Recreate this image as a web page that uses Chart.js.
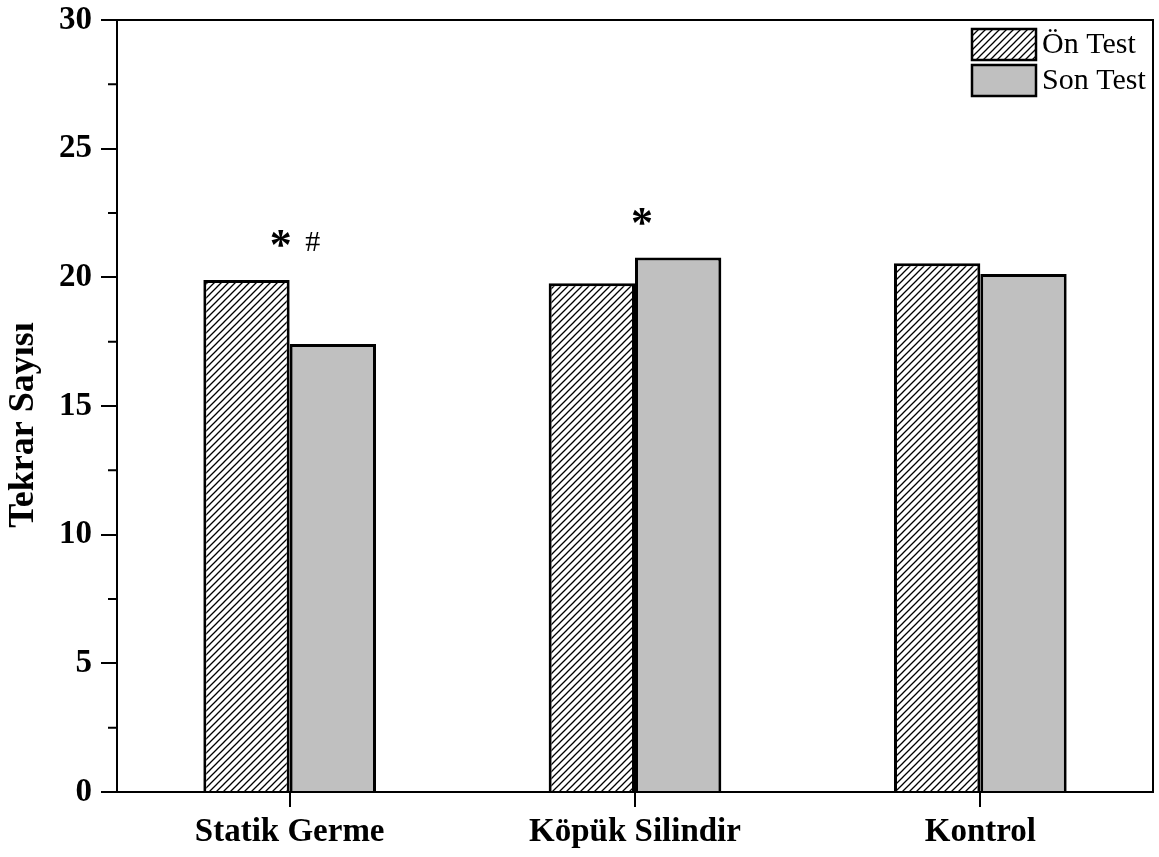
<!DOCTYPE html>
<html>
<head>
<meta charset="utf-8">
<script src="https://cdn.jsdelivr.net/npm/chart.js@4/dist/chart.umd.min.js"></script>
<style>
  html, body { margin: 0; padding: 0; background: #fff; }
  #wrap { width: 1159px; height: 857px; }
</style>
</head>
<body>
<div id="wrap"><canvas id="chart"></canvas></div>
<script>
(function() {
    'use strict';

    // Data
    var groups = ['Statik Germe', 'Köpük Silindir', 'Kontrol'];
    var seriesNames = ['Ön Test', 'Son Test'];
    var onTest = [19.9, 19.77, 20.55];
    var sonTest = [17.41, 20.77, 20.13];
    var yTicks = [0, 5, 10, 15, 20, 25, 30];
    var yTitle = 'Tekrar Sayısı';

    // Significance marks above groups
    var markGroups = [0, 0, 1];
    var markTexts = ['*', '#', '*'];

    var SERIF = '"Liberation Serif", "Times New Roman", serif';

    /**
     * Diagonal "/" hatch used for the pre-test bars.
     */
    function makeHatch() {
        var s = 7;
        var c = document.createElement('canvas');
        c.width = s; c.height = s;
        var g = c.getContext('2d');
        g.fillStyle = '#fff';
        g.fillRect(0, 0, s, s);
        g.strokeStyle = '#000';
        g.lineWidth = 1.3;
        g.beginPath();
        g.moveTo(0, s); g.lineTo(s, 0);
        g.moveTo(-1, 1); g.lineTo(1, -1);
        g.moveTo(s - 1, s + 1); g.lineTo(s + 1, s - 1);
        g.stroke();
        return g.createPattern(c, 'repeat');
    }

    var hatch = makeHatch();
    var gray = '#c0c0c0';

    // Frame, minor ticks, legend, axis title and significance marks
    var decorPlugin = {
        id: 'decor',
        afterDatasetsDraw: function(chart) {
            var ctx = chart.ctx;
            var xs = chart.scales.x;

            ctx.save();
            ctx.fillStyle = '#000';
            ctx.textAlign = 'center';
            ctx.textBaseline = 'middle';
            var offsets = [-9, 23, 7];
            markGroups.forEach(function(gi, k) {
                var top = Infinity;
                chart.data.datasets.forEach(function(ds, di) {
                    var el = chart.getDatasetMeta(di).data[gi];
                    if (el && el.y < top) top = el.y;
                });
                var x = xs.getPixelForValue(gi) + offsets[k];
                if (markTexts[k] === '*') {
                    ctx.font = 'bold 44px ' + SERIF;
                    ctx.fillText(markTexts[k], x, top - 32);
                } else {
                    ctx.font = '30px ' + SERIF;
                    ctx.fillText(markTexts[k], x, top - 37);
                }
            });
            ctx.restore();
        },
        afterDraw: function(chart) {
            var ctx = chart.ctx;
            var a = chart.chartArea;
            var ys = chart.scales.y;

            ctx.save();
            ctx.strokeStyle = '#000';
            ctx.lineWidth = 2;
            ctx.strokeRect(a.left, a.top, a.right - a.left, a.bottom - a.top);

            // minor ticks halfway between majors
            var t = ys.ticks;
            ctx.beginPath();
            for (var i = 0; i < t.length - 1; i++) {
                var py = ys.getPixelForValue((t[i].value + t[i + 1].value) / 2);
                ctx.moveTo(a.left - 9, py);
                ctx.lineTo(a.left, py);
            }
            ctx.stroke();

            // y axis title, a little below the middle as in the source
            ctx.save();
            ctx.translate(24, (a.top + a.bottom) / 2 + 19);
            ctx.rotate(-Math.PI / 2);
            ctx.font = 'bold 36px ' + SERIF;
            ctx.fillStyle = '#000';
            ctx.textAlign = 'center';
            ctx.textBaseline = 'middle';
            ctx.fillText(yTitle, 0, 0);
            ctx.restore();

            // legend in the upper right corner
            var bw = 64, bh = 31, gap = 5;
            var bx = a.right - 117 - bw;
            var by = a.top + 9;
            ctx.font = '30px ' + SERIF;
            ctx.textBaseline = 'middle';
            ctx.textAlign = 'left';
            chart.data.datasets.forEach(function(ds, i) {
                var yy = by + i * (bh + gap);
                ctx.fillStyle = ds.backgroundColor;
                ctx.fillRect(bx, yy, bw, bh);
                ctx.lineWidth = 2.5;
                ctx.strokeRect(bx, yy, bw, bh);
                ctx.fillStyle = '#000';
                ctx.fillText(ds.label, bx + bw + 6, yy + bh / 2 + 1);
            });
            ctx.restore();
        }
    };

    new Chart(document.getElementById('chart').getContext('2d'), {
        type: 'bar',
        data: {
            labels: groups,
            datasets: [{
                label: seriesNames[0],
                data: onTest,
                backgroundColor: hatch,
                borderColor: '#000',
                borderWidth: 3
            }, {
                label: seriesNames[1],
                data: sonTest,
                backgroundColor: gray,
                borderColor: '#000',
                borderWidth: 3
            }]
        },
        options: {
            responsive: true,
            maintainAspectRatio: false,
            animation: false,
            datasets: {
                bar: { categoryPercentage: 0.5, barPercentage: 1.0 }
            },
            layout: { padding: { top: 20, right: 6, left: 0, bottom: 0 } },
            plugins: {
                legend: { display: false },
                tooltip: { enabled: false }
            },
            scales: {
                x: {
                    offset: true,
                    border: { color: '#000', width: 2 },
                    grid: {
                        offset: false,
                        drawOnChartArea: false,
                        color: '#000',
                        lineWidth: 2,
                        tickLength: 15
                    },
                    ticks: {
                        color: '#000',
                        padding: 6,
                        maxRotation: 0,
                        font: { family: SERIF, size: 33, weight: 'bold' }
                    },
                    afterFit: function(s) {
                        s.height = 65;
                        s.paddingLeft = 0;
                        s.paddingRight = 0;
                    }
                },
                y: {
                    min: 0,
                    max: 30,
                    afterBuildTicks: function(s) {
                        s.ticks = yTicks.map(function(v) { return { value: v }; });
                    },
                    border: { color: '#000', width: 2 },
                    grid: {
                        drawOnChartArea: false,
                        color: '#000',
                        lineWidth: 2,
                        tickLength: 16
                    },
                    ticks: {
                        color: '#000',
                        padding: 9,
                        font: { family: SERIF, size: 33, weight: 'bold', lineHeight: 1 }
                    },
                    afterFit: function(s) {
                        s.width = 117;
                        s.paddingTop = 0;
                        s.paddingBottom = 0;
                    }
                }
            }
        },
        plugins: [decorPlugin]
    });
})();
</script>
</body>
</html>
